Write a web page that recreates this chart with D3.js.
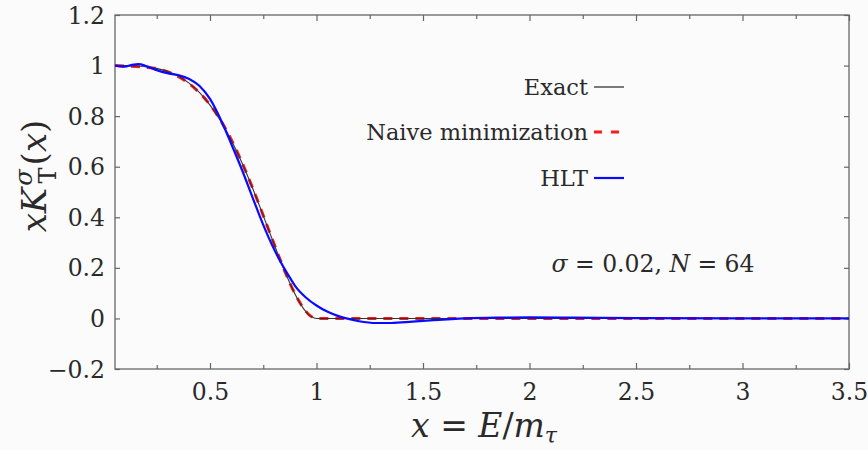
<!DOCTYPE html>
<html>
<head>
<meta charset="utf-8">
<script src="https://cdn.jsdelivr.net/npm/d3@7"></script>
<style>
  body { margin: 0; background: #fbfbfb; }
  svg { display: block; }
  svg text { font-family: "DejaVu Serif", "Liberation Serif", serif !important; fill: #2a2a2a; }
</style>
</head>
<body>
<svg id="chart" width="868" height="450"></svg>
<script>
// values
var xExact = [0.054, 0.1, 0.15, 0.2, 0.25, 0.3, 0.35, 0.4, 0.45, 0.5, 0.55, 0.6, 0.65, 0.7, 0.75, 0.8, 0.85, 0.9, 0.95, 0.97, 0.99, 1.0, 1.05, 1.5, 2.0, 2.5, 3.0, 3.5];
var yExact = [1.0, 0.9997, 0.9985, 0.9953, 0.9888, 0.977, 0.9587, 0.9314, 0.8936, 0.8438, 0.7809, 0.7045, 0.6153, 0.515, 0.4067, 0.2955, 0.1883, 0.0946, 0.0267, 0.0101, 0.0015, 0.0, 0.0, 0.0, 0.0, 0.0, 0.0, 0.0];

var xNaive = [0.054, 0.1, 0.15, 0.2, 0.25, 0.3, 0.35, 0.4, 0.45, 0.5, 0.55, 0.6, 0.65, 0.7, 0.75, 0.8, 0.85, 0.9, 0.95, 0.97, 0.99, 1.0, 1.05, 1.5, 2.0, 2.5, 3.0, 3.5];
var yNaive = [1.0, 0.998, 0.996, 0.993, 0.988, 0.976, 0.957, 0.93, 0.893, 0.845, 0.783, 0.707, 0.617, 0.516, 0.407, 0.296, 0.189, 0.096, 0.028, 0.011, 0.002, 0.0, 0.0, 0.0, 0.0, 0.0, 0.0, 0.0];

var xHLT = [0.054, 0.08, 0.1, 0.13, 0.165, 0.2, 0.25, 0.3, 0.35, 0.4, 0.45, 0.5, 0.555, 0.6, 0.65, 0.7, 0.75, 0.8, 0.837, 0.87, 0.9, 0.95, 1.0, 1.05, 1.1, 1.15, 1.2, 1.28, 1.35, 1.45, 1.55, 1.7, 1.85, 2.0, 2.2, 2.5, 3.0, 3.5];
var yHLT = [1.0, 0.997, 0.996, 1.002, 1.006, 0.998, 0.982, 0.97, 0.962, 0.948, 0.92, 0.868, 0.778, 0.69, 0.588, 0.478, 0.37, 0.275, 0.215, 0.168, 0.128, 0.083, 0.051, 0.027, 0.01, -0.002, -0.011, -0.018, -0.018, -0.013, -0.007, 0.0, 0.003, 0.004, 0.003, 0.001, 0.0, 0.0];

var xTicks = [0.5, 1, 1.5, 2, 2.5, 3, 3.5];
var xMinorTicks = [0.25, 0.75, 1.25, 1.75, 2.25, 2.75, 3.25];
var yTicks = [-0.2, 0, 0.2, 0.4, 0.6, 0.8, 1, 1.2];

var legendNames = ["Exact", "Naive minimization", "HLT"];

var svg = d3.select('#chart');
// plot box (avoid the name "top", it is window.top)
var pLeft = 115, pRight = 849, pTop = 15, pBottom = 369;

var x = d3.scaleLinear().domain([0.054, 3.5]).range([pLeft, pRight]);
var y = d3.scaleLinear().domain([-0.2, 1.2]).range([pBottom, pTop]);

svg.append('rect').attr('width', 868).attr('height', 450).attr('fill', '#fbfbfb');

svg.append('clipPath').attr('id', 'clip')
  .append('rect').attr('x', pLeft).attr('y', pTop).attr('width', pRight - pLeft).attr('height', pBottom - pTop);

// ticks, all pointing inwards, mirrored on the opposite sides
function tickFmt(d) { return d < 0 ? '\u2212' + Math.abs(d) : String(d); }

var axB = svg.append('g').attr('transform', `translate(0,${pBottom})`)
  .call(d3.axisBottom(x).tickValues(xTicks).tickSizeInner(-6).tickSizeOuter(0).tickPadding(14).tickFormat(tickFmt));
var axBm = svg.append('g').attr('transform', `translate(0,${pBottom})`)
  .call(d3.axisBottom(x).tickValues(xMinorTicks).tickSizeInner(-4).tickSizeOuter(0).tickFormat(''));
var axT = svg.append('g').attr('transform', `translate(0,${pTop})`)
  .call(d3.axisTop(x).tickValues(xTicks).tickSizeInner(-6).tickSizeOuter(0).tickFormat(''));
var axTm = svg.append('g').attr('transform', `translate(0,${pTop})`)
  .call(d3.axisTop(x).tickValues(xMinorTicks).tickSizeInner(-4).tickSizeOuter(0).tickFormat(''));
var axL = svg.append('g').attr('transform', `translate(${pLeft},0)`)
  .call(d3.axisLeft(y).tickValues(yTicks).tickSizeInner(-5).tickSizeOuter(0).tickPadding(10).tickFormat(tickFmt));
var axR = svg.append('g').attr('transform', `translate(${pRight},0)`)
  .call(d3.axisRight(y).tickValues(yTicks).tickSizeInner(-5).tickSizeOuter(0).tickFormat(''));

[axB, axBm, axT, axTm, axL, axR].forEach(function(g){
  g.attr('font-family', null);
  g.select('.domain').remove();
  g.selectAll('line').attr('stroke', '#666').attr('stroke-width', 1.2);
  g.selectAll('text').style('font-size', '23.5px');
});
axB.selectAll('text').attr('dy', '0.71em');
axL.selectAll('text').attr('dy', '0.34em');

svg.append('rect').attr('x', pLeft).attr('y', pTop).attr('width', pRight - pLeft).attr('height', pBottom - pTop)
  .attr('fill', 'none').attr('stroke', '#666').attr('stroke-width', 1.3);

// curves
var line = d3.line().x(d => x(d[0])).y(d => y(d[1])).curve(d3.curveMonotoneX);
var plot = svg.append('g').attr('clip-path', 'url(#clip)');

plot.append('path').datum(d3.zip(xNaive, yNaive)).attr('d', line)
  .attr('fill', 'none').attr('stroke', '#ff1a1a').attr('stroke-width', 3).attr('stroke-dasharray', '9,7');
plot.append('path').datum(d3.zip(xExact, yExact)).attr('d', line)
  .attr('fill', 'none').attr('stroke', '#333').attr('stroke-width', 1.1);
plot.append('path').datum(d3.zip(xHLT, yHLT)).attr('d', line)
  .attr('fill', 'none').attr('stroke', '#0a0aff').attr('stroke-width', 2.2);

// legend
var legY = [87, 132, 178];
var legStyles = [
  {stroke: '#333', width: 1.3, dash: null},
  {stroke: '#ff1a1a', width: 3, dash: '8,9'},
  {stroke: '#0a0aff', width: 2.2, dash: null}
];
legendNames.forEach(function(name, i){
  svg.append('text').attr('x', 588).attr('y', legY[i]).attr('dy', '0.34em')
    .attr('text-anchor', 'end').style('font-size', '22.5px').text(name);
  svg.append('line').attr('x1', 594).attr('x2', 624).attr('y1', legY[i]).attr('y2', legY[i])
    .attr('stroke', legStyles[i].stroke).attr('stroke-width', legStyles[i].width)
    .attr('stroke-dasharray', legStyles[i].dash);
});

// annotation
var ann = svg.append('text').attr('x', 653).attr('y', 272).attr('text-anchor', 'middle').style('font-size', '23.5px');
ann.append('tspan').style('font-style', 'italic').text('\u03c3');
ann.append('tspan').text(' = 0.02, ');
ann.append('tspan').style('font-style', 'italic').text('N');
ann.append('tspan').text(' = 64');

// x axis title
var xt = svg.append('text').attr('x', 484).attr('y', 437).attr('text-anchor', 'middle').style('font-size', '33px');
xt.append('tspan').style('font-style', 'italic').text('x');
xt.append('tspan').text(' = ');
xt.append('tspan').style('font-style', 'italic').text('E');
xt.append('tspan').text('/');
xt.append('tspan').style('font-style', 'italic').text('m');
xt.append('tspan').style('font-style', 'italic').style('font-size', '22px').attr('dy', 6).text('\u03c4');

// y axis title
var yt = svg.append('text').attr('transform', 'translate(46,176) rotate(-90)')
  .attr('text-anchor', 'middle').style('font-size', '34px');
yt.append('tspan').style('font-style', 'italic').text('xK');
yt.append('tspan').style('font-style', 'italic').style('font-size', '24px').attr('dx', 2).attr('dy', -14).text('\u03c3');
yt.append('tspan').style('font-size', '24px').attr('dx', -14).attr('dy', 24).text('T');
yt.append('tspan').attr('dx', 2).attr('dy', -10).text('(');
yt.append('tspan').style('font-style', 'italic').text('x');
yt.append('tspan').text(')');
</script>
</body>
</html>
